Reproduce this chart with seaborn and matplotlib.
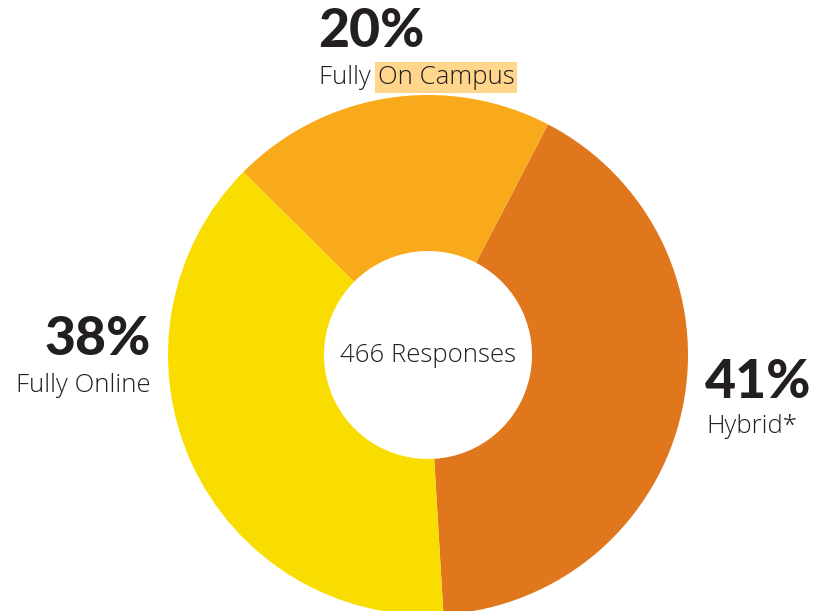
import matplotlib
matplotlib.use("Agg")
import matplotlib.pyplot as plt
import seaborn as sns

categories = ["Hybrid*", "Fully Online", "Fully On Campus"]
values = [41, 38, 20]
pct_labels = ["41%", "38%", "20%"]
colors = ["#E0771C", "#FADD00", "#F9AA1B"]
center_text = "466 Responses"

sns.set_theme(style="white")
plt.rcParams["font.family"] = ["Lato", "DejaVu Sans"]

W, H = 817, 611
fig = plt.figure(figsize=(W / 100, H / 100), dpi=100)
ax = fig.add_axes([0, 0, 1, 1])

cx, cy = 428, H - 355
R = 260
wedges, _ = ax.pie(values, colors=colors, startangle=62.5, counterclock=False,
                   center=(cx, cy), radius=R, frame=True,
                   wedgeprops=dict(width=R - 104, linewidth=0))
ax.set_xlim(0, W)
ax.set_ylim(0, H)
ax.set_aspect("equal")
ax.axis("off")

txt = "#231F20"
big = dict(fontsize=38.5, fontweight="black", color=txt, family=["Lato", "DejaVu Sans"])
small = dict(fontsize=18.5, fontweight="light", color=txt, family=["Open Sans", "DejaVu Sans"])

# Hybrid (right)
ax.text(705, H - 398, pct_labels[0], ha="left", va="baseline", **big)
ax.text(706, H - 433, categories[0], ha="left", va="baseline", **small)
# Fully Online (left)
ax.text(151, H - 355, pct_labels[1], ha="right", va="baseline", **big)
ax.text(151, H - 392, categories[1], ha="right", va="baseline", **small)
# Fully On Campus (top)
ax.text(318, H - 47, pct_labels[2], ha="left", va="baseline", **big)
t1 = ax.text(319, H - 84, "Fully ", ha="left", va="baseline", **small)
ax.annotate("On Campus", xy=(1, 0), xycoords=t1, xytext=(0, 0),
            textcoords="offset points", ha="left", va="bottom",
            bbox=dict(boxstyle="square,pad=0.12", fc="#FFD68B", ec="none"),
            **small)

ax.text(cx, cy, center_text, ha="center", va="center", **small)

fig.savefig("out.png", dpi=100)
